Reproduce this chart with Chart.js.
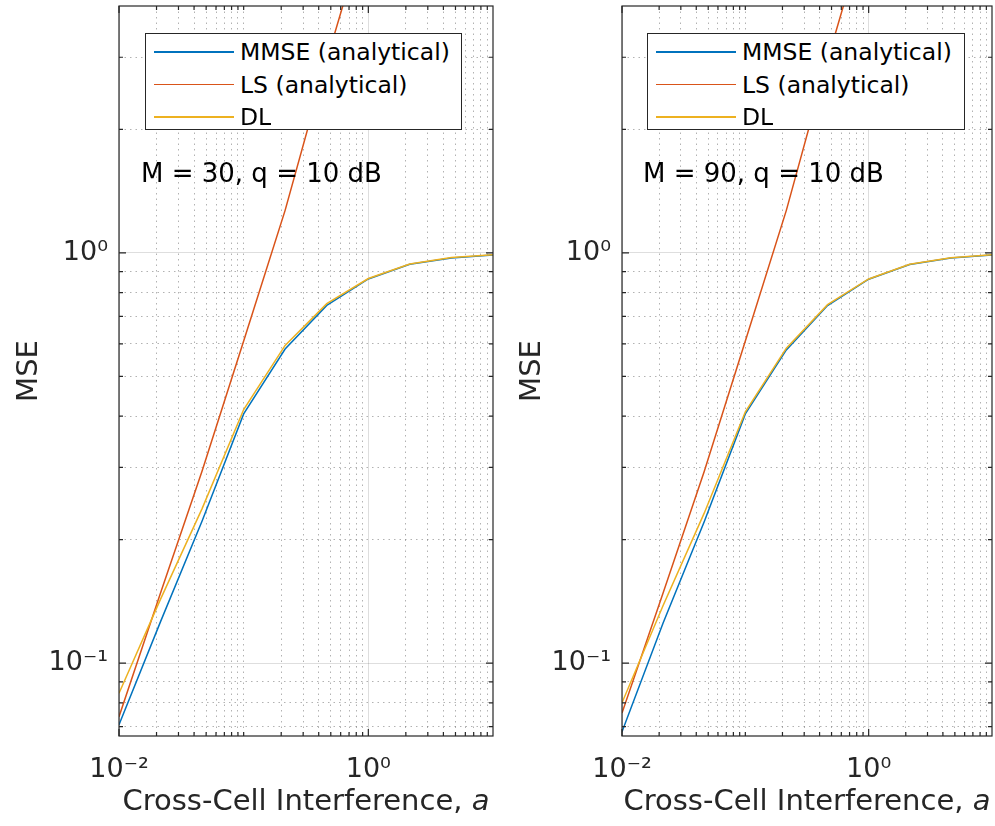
<!DOCTYPE html>
<html>
<head>
<meta charset="utf-8">
<script src="https://cdn.jsdelivr.net/npm/chart.js@4.4.0/dist/chart.umd.min.js"></script>
<style>
  body { margin: 0; background: #fff; font-family: 'DejaVu Sans', sans-serif; color: #262626; }
  #wrap { position: relative; width: 995px; height: 826px; overflow: hidden; }
  canvas { position: absolute; top: 0; }
  .legend { position: absolute; background: #fff; border: 1px solid #262626; box-sizing: border-box; }
  .legend .row { position: absolute; left: 0; right: 0; height: 30px; }
  .legend .swatch { position: absolute; top: 14px; width: 80px; height: 1.5px; }
  .legend .label { position: absolute; top: 0; font-size: 23.5px; line-height: 30px; color: #000; white-space: nowrap; }
  .note { position: absolute; font-size: 26px; line-height: 30px; color: #000; white-space: nowrap; }
  .xtitle { position: absolute; text-align: center; font-size: 29px; line-height: 34px; color: #262626; white-space: nowrap; }
</style>
</head>
<body>
<div id="wrap">
  <canvas id="chartM30" width="497" height="826" style="left:0px"></canvas>
  <canvas id="chartM90" width="498" height="826" style="left:497px"></canvas>
</div>
<script>
// cross-cell interference a (x axis, log)
const aValues = [0.01, 0.0215, 0.0464, 0.1, 0.215, 0.464, 1, 2.15, 4.64, 10];

const seriesNames = ['MMSE (analytical)', 'LS (analytical)', 'DL'];
const seriesColors = ['#0072BD', '#D95319', '#EDB120'];
const panelNotes = ['M = 30, q = 10 dB', 'M = 90, q = 10 dB'];

// M = 30
const mmseM30 = [0.0707, 0.126, 0.222, 0.405, 0.583, 0.745, 0.864, 0.938, 0.972, 0.988];
const lsM30 = [0.074, 0.148, 0.294, 0.61, 1.27, 2.95, 6.5, 14, 30, 65];
const dlM30 = [0.0844, 0.143, 0.238, 0.415, 0.595, 0.752, 0.866, 0.940, 0.974, 0.990];

// M = 90
const mmseM90 = [0.068, 0.125, 0.221, 0.405, 0.58, 0.744, 0.863, 0.937, 0.972, 0.988];
const lsM90 = [0.0755, 0.148, 0.293, 0.61, 1.27, 2.95, 6.5, 14, 30, 65];
const dlM90 = [0.080, 0.138, 0.232, 0.41, 0.586, 0.748, 0.864, 0.938, 0.973, 0.990];

// tick labels
const xTickValues = [0.01, 1];
const xTickLabels = ['10⁻²', '10⁰'];
const yTickValues = [0.1, 1];
const yTickLabels = ['10⁻¹', '10⁰'];

const xMin = 0.01, xMax = 10;
const yMin = 0.0664, yMax = 4;

// minor grid positions (2..9 of each decade inside the range)
function minorValues(min, max) {
  const out = [];
  for (let e = -3; e <= 2; e++) {
    for (let k = 1; k <= 9; k++) {
      const v = k * Math.pow(10, e);
      if (v > min * 1.0001 && v < max * 0.9999) out.push(v);
    }
  }
  return out;
}
const xMinor = minorValues(xMin, xMax).filter(v => !xTickValues.some(t => Math.abs(t - v) < 1e-9));
const yMinor = minorValues(yMin, yMax).filter(v => !yTickValues.some(t => Math.abs(t - v) < 1e-9));

// box around the axes with inward tick marks
const boxPlugin = {
  id: 'axesBox',
  afterDraw(chart) {
    const { ctx, chartArea: a, scales } = chart;
    const sx = scales.x, sy = scales.y;
    ctx.save();
    ctx.strokeStyle = '#262626';
    ctx.lineWidth = 1.2;
    ctx.strokeRect(a.left, a.top, a.right - a.left, a.bottom - a.top);
    ctx.beginPath();
    const xt = (v, len) => {
      const px = sx.getPixelForValue(v);
      ctx.moveTo(px, a.bottom); ctx.lineTo(px, a.bottom - len);
      ctx.moveTo(px, a.top); ctx.lineTo(px, a.top + len);
    };
    const yt = (v, len) => {
      const py = sy.getPixelForValue(v);
      ctx.moveTo(a.left, py); ctx.lineTo(a.left + len, py);
      ctx.moveTo(a.right, py); ctx.lineTo(a.right - len, py);
    };
    xMinor.forEach(v => xt(v, 4));
    xTickValues.forEach(v => xt(v, 7));
    yMinor.forEach(v => yt(v, 4));
    yTickValues.forEach(v => yt(v, 7));
    ctx.stroke();
    ctx.restore();
  }
};

// fixed axis sizes, no extra label padding
function fixSize(prop, size) {
  return s => {
    s[prop] = size;
    s.paddingTop = 0; s.paddingBottom = 0;
    s.paddingLeft = 0; s.paddingRight = 0;
  };
}

function makeChart(canvasId, mmse, ls, dl, yAxisWidth, padRight) {
  const ctx = document.getElementById(canvasId).getContext('2d');
  const values = [mmse, ls, dl];
  const drawOrder = [2, 1, 0]; // DL on top, MMSE below
  const datasets = values.map((vals, i) => ({
    label: seriesNames[i],
    data: aValues.map((a, j) => ({ x: a, y: vals[j] })),
    borderColor: seriesColors[i],
    backgroundColor: seriesColors[i],
    borderWidth: 1.5,
    pointRadius: 0,
    tension: 0,
    order: drawOrder[i]
  }));

  return new Chart(ctx, {
    type: 'line',
    data: { datasets },
    options: {
      responsive: false,
      animation: false,
      layout: { padding: { top: 6, right: padRight, left: 0, bottom: 0 } },
      plugins: { legend: { display: false }, tooltip: { enabled: false } },
      scales: {
        x: {
          type: 'logarithmic',
          position: 'bottom',
          min: xMin, max: xMax,
          afterBuildTicks: s => { s.ticks = xTickValues.map(v => ({ value: v })); },
          afterFit: fixSize('height', 90),
          ticks: {
            autoSkip: false, maxRotation: 0, padding: 18,
            color: '#262626',
            font: { family: 'DejaVu Sans', size: 27 },
            callback: v => { const i = xTickValues.indexOf(v); return i >= 0 ? xTickLabels[i] : ''; }
          },
          grid: { color: 'rgba(0,0,0,0.13)', lineWidth: 1, drawTicks: false },
          border: { display: false }
        },
        y: {
          type: 'logarithmic',
          position: 'left',
          min: yMin, max: yMax,
          afterBuildTicks: s => { s.ticks = yTickValues.map(v => ({ value: v })); },
          afterFit: fixSize('width', yAxisWidth),
          ticks: {
            autoSkip: false, padding: 11,
            color: '#262626',
            font: { family: 'DejaVu Sans', size: 27 },
            callback: v => { const i = yTickValues.indexOf(v); return i >= 0 ? yTickLabels[i] : ''; }
          },
          title: {
            display: true, text: 'MSE', color: '#262626',
            font: { family: 'DejaVu Sans', size: 29 },
            padding: { top: yAxisWidth - 107, bottom: 0 }
          },
          grid: { color: 'rgba(0,0,0,0.13)', lineWidth: 1, drawTicks: false },
          border: { display: false }
        },
        xMinor: {
          type: 'logarithmic',
          position: 'top',
          min: xMin, max: xMax,
          afterBuildTicks: s => { s.ticks = xMinor.map(v => ({ value: v })); },
          afterFit: fixSize('height', 0),
          ticks: { display: false },
          grid: { color: 'rgba(0,0,0,0.3)', lineWidth: 1, drawTicks: false },
          border: { display: false, dash: [1.5, 4] }
        },
        yMinor: {
          type: 'logarithmic',
          position: 'right',
          min: yMin, max: yMax,
          afterBuildTicks: s => { s.ticks = yMinor.map(v => ({ value: v })); },
          afterFit: fixSize('width', 0),
          ticks: { display: false },
          grid: { color: 'rgba(0,0,0,0.3)', lineWidth: 1, drawTicks: false },
          border: { display: false, dash: [1.5, 4] }
        }
      }
    },
    plugins: [boxPlugin]
  });
}

// legend box, panel note and x title as page text over the canvas
function addOverlays(chart, canvasLeft, note, legendLeft, legendWidth) {
  const wrap = document.getElementById('wrap');
  const area = chart.chartArea;

  const legend = document.createElement('div');
  legend.className = 'legend';
  legend.style.left = legendLeft + 'px';
  legend.style.top = '33px';
  legend.style.width = legendWidth + 'px';
  legend.style.height = '97px';
  seriesNames.forEach((name, i) => {
    const row = document.createElement('div');
    row.className = 'row';
    row.style.top = (3 + i * 32.5) + 'px';
    const sw = document.createElement('div');
    sw.className = 'swatch';
    sw.style.left = '8px';
    sw.style.background = seriesColors[i];
    const lb = document.createElement('div');
    lb.className = 'label';
    lb.style.left = '94px';
    lb.textContent = name;
    row.appendChild(sw);
    row.appendChild(lb);
    legend.appendChild(row);
  });
  wrap.appendChild(legend);

  const n = document.createElement('div');
  n.className = 'note';
  n.style.left = (legendLeft - 4) + 'px';
  n.style.top = '158px';
  n.textContent = note;
  wrap.appendChild(n);

  const t = document.createElement('div');
  t.className = 'xtitle';
  t.style.left = (canvasLeft + area.left) + 'px';
  t.style.width = (area.right - area.left) + 'px';
  t.style.top = '783px';
  t.innerHTML = 'Cross-Cell Interference, <i>a</i>';
  wrap.appendChild(t);
}

const chartM30 = makeChart('chartM30', mmseM30, lsM30, dlM30, 119, 4);
const chartM90 = makeChart('chartM90', mmseM90, lsM90, dlM90, 125, 3);
addOverlays(chartM30, 0, panelNotes[0], 145, 317);
addOverlays(chartM90, 497, panelNotes[1], 647, 318);
</script>
</body>
</html>
